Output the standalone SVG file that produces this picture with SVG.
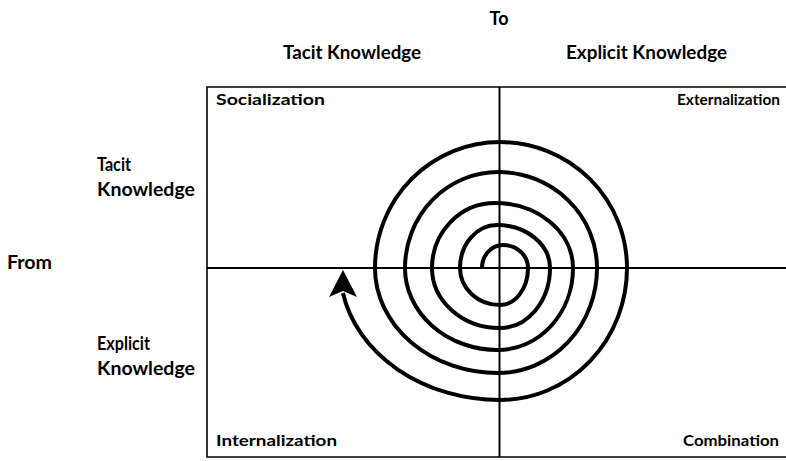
<svg xmlns="http://www.w3.org/2000/svg" width="786" height="461" viewBox="0 0 786 461">
  <style>
    .hdr { font-family: Lato, "Liberation Sans", sans-serif; font-weight: 700; font-size: 18px; fill: #000; }
    .lbl { font-family: Lato, "Liberation Sans", sans-serif; font-weight: 700; font-size: 18px; fill: #000; }
    .q { font-family: Lato, "Liberation Sans", sans-serif; font-weight: 700; font-size: 16px; fill: #000; }
    .frame { fill: none; stroke: #000; stroke-width: 1.6; }
    .axis { fill: none; stroke: #000; stroke-width: 2; }
    .spiral { fill: none; stroke: #000; stroke-width: 4; stroke-linecap: butt; }
  </style>
  <rect width="786" height="461" fill="#fff"/>

  <g id="headers">
    <text class="hdr" x="499" y="25" text-anchor="middle" textLength="19" lengthAdjust="spacingAndGlyphs">To</text>
    <text class="hdr" x="283" y="59" textLength="138" lengthAdjust="spacingAndGlyphs">Tacit Knowledge</text>
    <text class="hdr" x="566" y="59" textLength="161" lengthAdjust="spacingAndGlyphs">Explicit Knowledge</text>
    <text class="lbl" x="7" y="269" textLength="45" lengthAdjust="spacingAndGlyphs">From</text>
  </g>

  <g id="row-tacit">
    <text class="lbl" x="97" y="171" textLength="34" lengthAdjust="spacingAndGlyphs">Tacit</text>
    <text class="lbl" x="97" y="196" textLength="98" lengthAdjust="spacingAndGlyphs">Knowledge</text>
  </g>
  <g id="row-explicit">
    <text class="lbl" x="97" y="350" textLength="53" lengthAdjust="spacingAndGlyphs">Explicit</text>
    <text class="lbl" x="97" y="375" textLength="98" lengthAdjust="spacingAndGlyphs">Knowledge</text>
  </g>

  <g id="grid">
    <polyline class="frame" points="786,87 207,87 207,457 786,457"/>
    <line class="axis" x1="207" y1="268" x2="786" y2="268"/>
    <line class="axis" x1="499.5" y1="87" x2="499.5" y2="457"/>
  </g>

  <g id="socialization"><text class="q" x="216" y="105" textLength="109" lengthAdjust="spacingAndGlyphs">Socialization</text></g>
  <g id="externalization"><text class="q" x="677" y="105" style="font-size:15px" textLength="103" lengthAdjust="spacingAndGlyphs">Externalization</text></g>
  <g id="internalization"><text class="q" x="216" y="446" textLength="121" lengthAdjust="spacingAndGlyphs">Internalization</text></g>
  <g id="combination"><text class="q" x="683" y="446" textLength="96" lengthAdjust="spacingAndGlyphs">Combination</text></g>

  <g id="connectors">
    <path class="spiral" d="M 482 268
      A 21 23 0 0 1 503 245
      A 25 23 0 0 1 528 268
      A 28 37 0 0 1 500 305
      A 40 37 0 0 1 460 268
      A 37 43 0 0 1 497 225
      A 53 43 0 0 1 550 268
      A 50 60 0 0 1 500 328
      A 68 60 0 0 1 432 268
      A 63 65 0 0 1 495 203
      A 78 65 0 0 1 573 268
      A 75 82 0 0 1 498 350
      A 93 82 0 0 1 405 268
      A 93 96 0 0 1 498 172
      A 99 96 0 0 1 597 268
      A 99 105 0 0 1 498 373
      A 123 105 0 0 1 375 268
      A 125 126 0 0 1 500 142
      A 127 126 0 0 1 627 268
      A 127 132 0 0 1 500 400
      A 160 132 0 0 1 342.9 293"/>
    <polygon points="343,270 357,297 343,291 329,297" fill="#000"/>
  </g>
</svg>
